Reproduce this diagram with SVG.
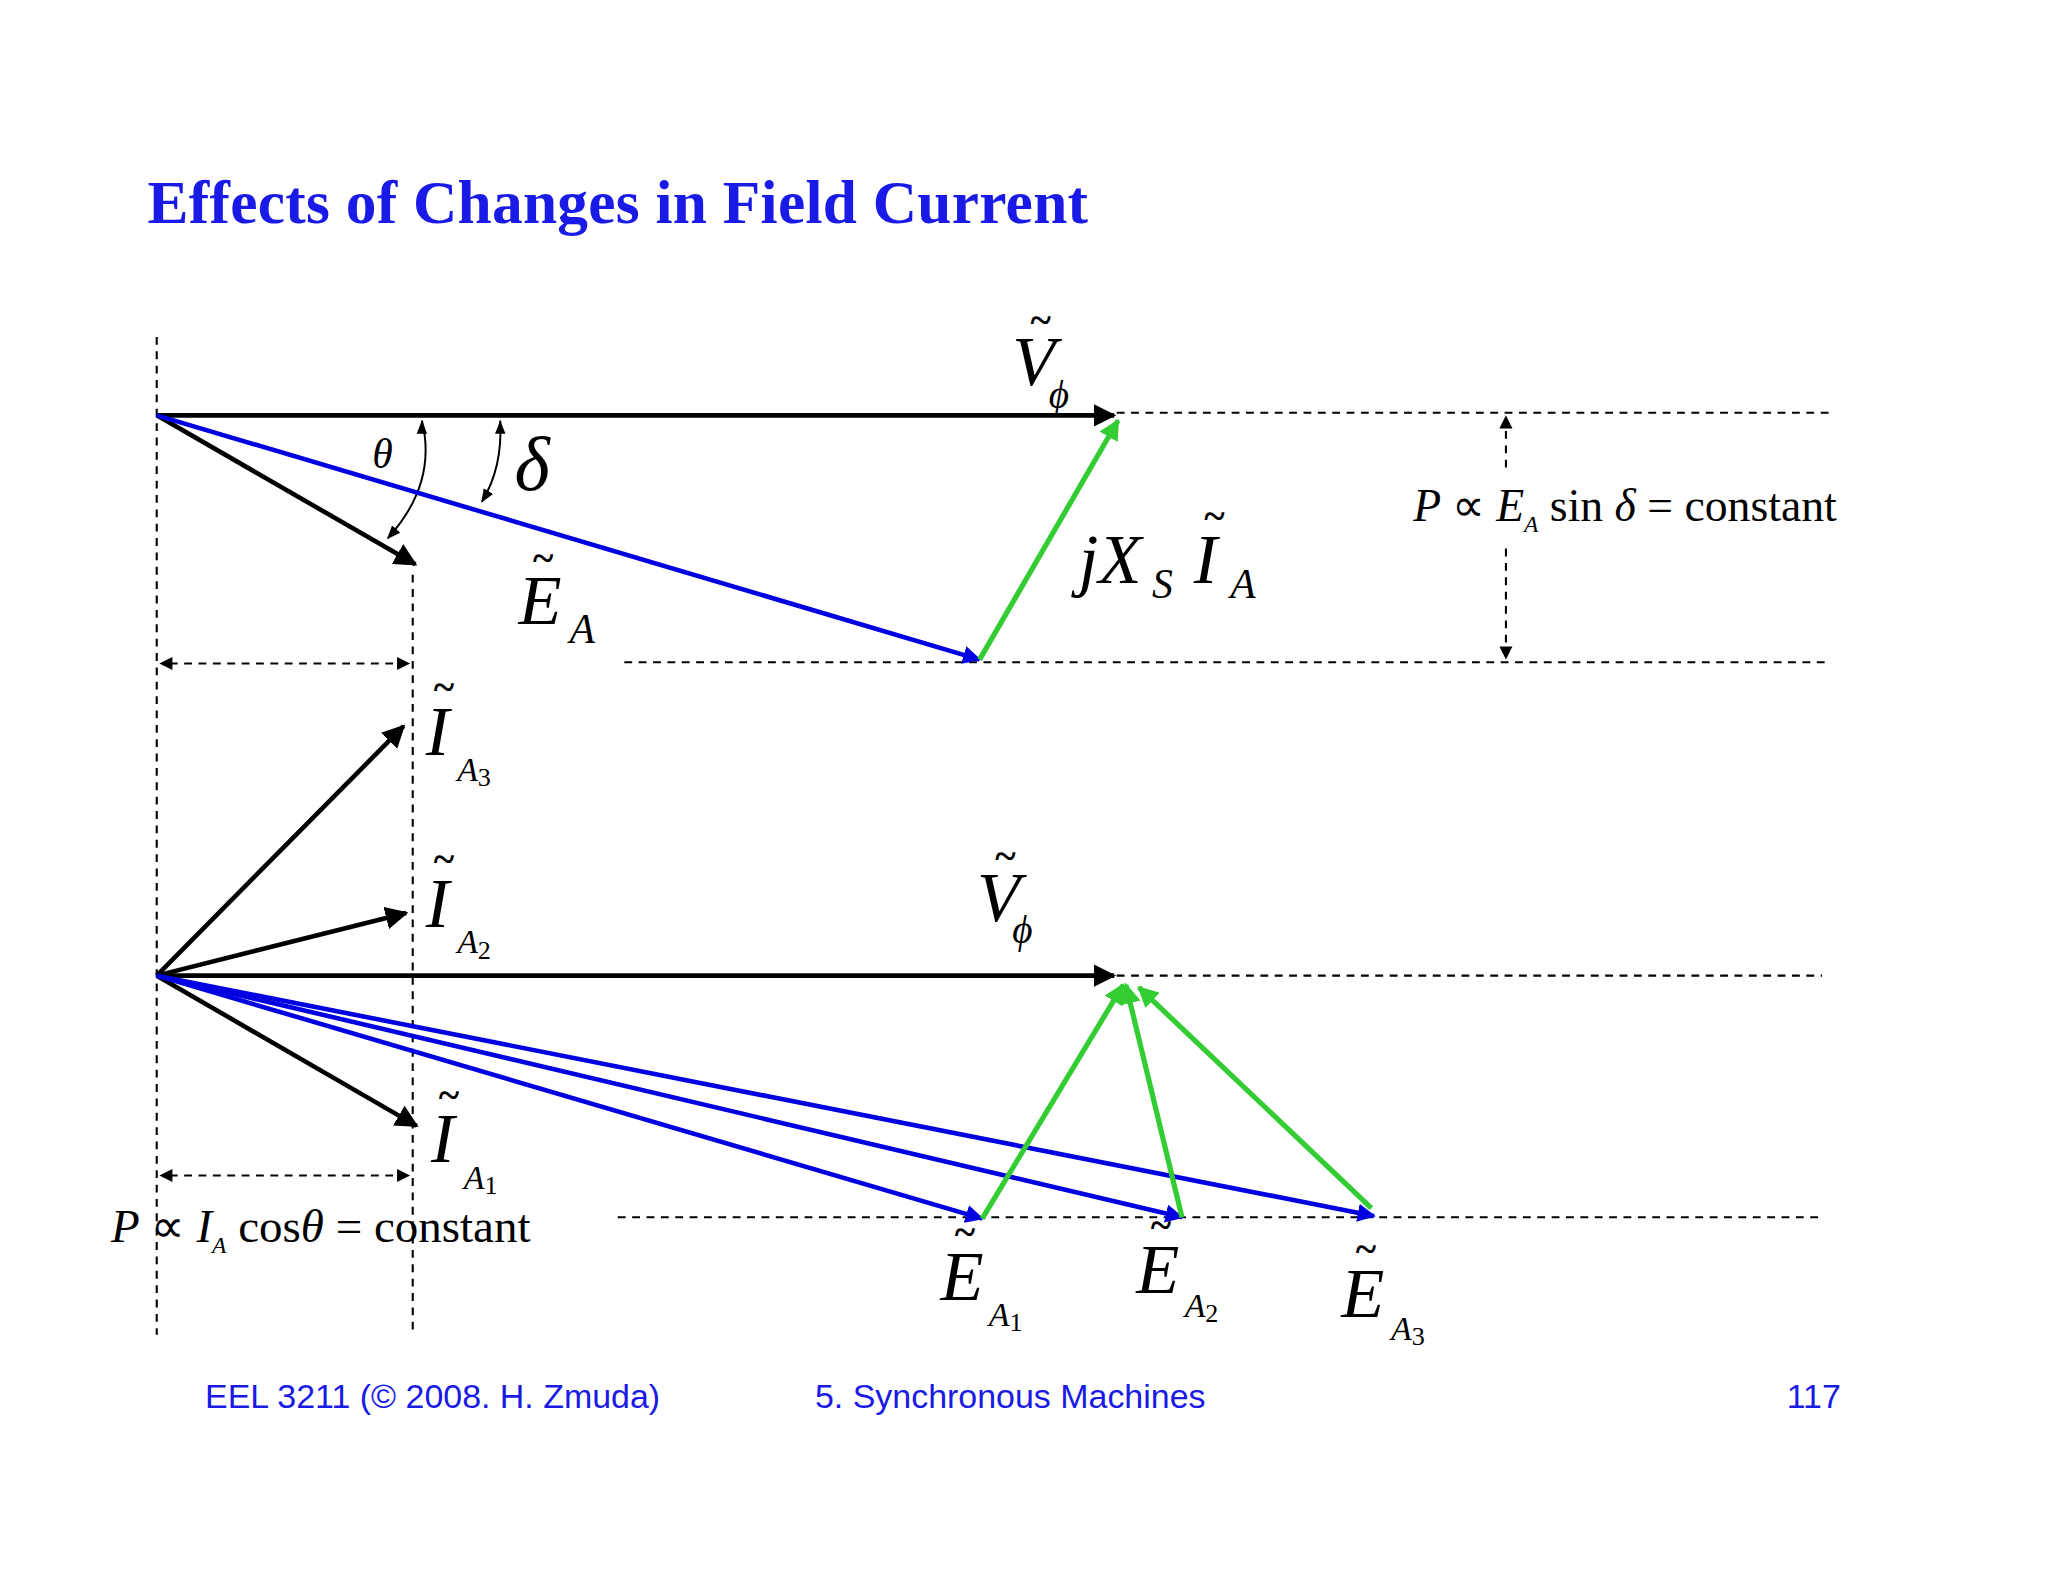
<svg xmlns="http://www.w3.org/2000/svg" width="2048" height="1582" viewBox="0 0 2048 1582">
<style>
.d{stroke:#000;stroke-width:1.6;stroke-dasharray:6 5;fill:none}
.v{stroke:#000;stroke-width:3.5;fill:none}
.b{stroke:#0000e0;stroke-width:3.5;fill:none}
.g{stroke:#33cc33;stroke-width:4;fill:none}
.h{fill:#000}
.t{font-family:"Liberation Serif",serif;font-style:italic;fill:#000}
.n{font-family:"Liberation Serif",serif;fill:#000}
.w{font-family:"Liberation Serif",serif;fill:#000;font-size:30px;font-weight:bold}
.f{font-family:"Liberation Sans",sans-serif;fill:#1a1ae6;font-size:26px}
</style>
<defs>
<marker id="ak" viewBox="0 0 10 10" refX="9" refY="5" markerWidth="5" markerHeight="5" orient="auto" markerUnits="strokeWidth"><path d="M0,0L10,5L0,10z" fill="#000"/></marker>
<marker id="ab" viewBox="0 0 10 10" refX="9" refY="5" markerWidth="4" markerHeight="4" orient="auto" markerUnits="strokeWidth"><path d="M0,0L10,5L0,10z" fill="#0000e0"/></marker>
<marker id="ag" viewBox="0 0 10 10" refX="9" refY="5" markerWidth="4" markerHeight="4" orient="auto" markerUnits="strokeWidth"><path d="M0,0L10,5L0,10z" fill="#33cc33"/></marker>
<marker id="as" viewBox="0 0 10 10" refX="9" refY="5" markerWidth="7" markerHeight="7" orient="auto" markerUnits="strokeWidth"><path d="M0,1L10,5L0,9z" fill="#000"/></marker>
</defs>
<rect width="2048" height="1582" fill="#fff"/>
<g transform="scale(1.3061)">
<text x="113" y="171" font-family="Liberation Serif,serif" font-weight="bold" font-size="47" fill="#1a1ae6" textLength="720">Effects of Changes in Field Current</text>
<g id="connectors">
<path class="d" d="M120,258V1022M316,440V1022M855,316H1400M478,507H1400M855,747H1395M473,932H1395"/>
<path class="d" d="M130,508H304M130,900H304"/>
<path class="h" d="M122,508l10,-5v10zM314,508l-10,-5v10zM122,900l10,-5v10zM314,900l-10,-5v10z"/>
<path class="d" d="M1153,358V326M1153,420V497"/>
<path class="h" d="M1153,318l-5,10h10zM1153,505l-5,-10h10z"/>
<path d="M323,322Q335,370 297,412" stroke="#000" stroke-width="1.5" fill="none" marker-end="url(#as)"/>
<path d="M323,322l-4,10h8z" class="h"/>
<path d="M383,322Q385,358 369,384" stroke="#000" stroke-width="1.5" fill="none" marker-end="url(#as)"/>
<path d="M383,322l-4,10h8z" class="h"/>
<path class="v" d="M120,318H853" marker-end="url(#ak)"/>
<path class="v" d="M120,318L318,432" marker-end="url(#ak)"/>
<path class="b" d="M120,318L750,505" marker-end="url(#ab)"/>
<path class="g" d="M750,505L856,322" marker-end="url(#ag)"/>
<path class="v" d="M120,747H853" marker-end="url(#ak)"/>
<path class="v" d="M120,747L309,556" marker-end="url(#ak)"/>
<path class="v" d="M120,747L311,699" marker-end="url(#ak)"/>
<path class="v" d="M120,747L319,862" marker-end="url(#ak)"/>
<path class="b" d="M120,747L752,933" marker-end="url(#ab)"/>
<path class="b" d="M120,747L905,932" marker-end="url(#ab)"/>
<path class="b" d="M120,747L1052,931" marker-end="url(#ab)"/>
<path class="g" d="M752,933L860,754" marker-end="url(#ag)"/>
<path class="g" d="M905,932L862,754" marker-end="url(#ag)"/>
<path class="g" d="M1050,925L872,756" marker-end="url(#ag)"/>
</g>
<g id="labels">
<text class="t" x="775" y="295" font-size="54">V</text><text class="w" x="789" y="255">~</text><text class="t" x="803" y="312" font-size="30">ϕ</text>
<text class="t" x="285" y="358" font-size="32">θ</text>
<text class="t" x="394" y="375" font-size="58">δ</text>
<text class="t" x="397" y="478" font-size="54">E</text><text class="w" x="408" y="437">~</text><text class="t" x="436" y="492" font-size="32">A</text>
<text class="t" x="826" y="446" font-size="54">jX</text><text class="t" x="882" y="458" font-size="32">S</text>
<text class="t" x="914" y="446" font-size="54">I</text><text class="w" x="922" y="405">~</text><text class="t" x="942" y="458" font-size="32">A</text>
<text class="t" x="1082" y="399" font-size="35">P <tspan class="n" font-style="normal">∝</tspan> E<tspan font-size="18" dy="8">A</tspan><tspan class="n" font-style="normal" dy="-8"> sin</tspan> δ<tspan font-style="normal"> = constant</tspan></text>
<text class="t" x="326" y="578" font-size="54">I</text><text class="w" x="332" y="536">~</text><text class="t" x="350" y="598" font-size="26">A<tspan font-size="20" font-style="normal" dy="4">3</tspan></text>
<text class="t" x="326" y="710" font-size="54">I</text><text class="w" x="332" y="668">~</text><text class="t" x="350" y="730" font-size="26">A<tspan font-size="20" font-style="normal" dy="4">2</tspan></text>
<text class="t" x="330" y="890" font-size="54">I</text><text class="w" x="336" y="848">~</text><text class="t" x="355" y="910" font-size="26">A<tspan font-size="20" font-style="normal" dy="4">1</tspan></text>
<text class="t" x="748" y="705" font-size="54">V</text><text class="w" x="762" y="665">~</text><text class="t" x="775" y="722" font-size="30">ϕ</text>
<text class="t" x="85" y="951" font-size="36">P <tspan class="n" font-style="normal">∝</tspan> I<tspan font-size="18" dy="8">A</tspan><tspan class="n" font-style="normal" dy="-8"> cos</tspan>θ<tspan font-style="normal"> = constant</tspan></text>
<text class="t" x="720" y="995" font-size="54">E</text><text class="w" x="731" y="953">~</text><text class="t" x="757" y="1015" font-size="26">A<tspan font-size="20" font-style="normal" dy="4">1</tspan></text>
<text class="t" x="870" y="990" font-size="54">E</text><text class="w" x="881" y="948">~</text><text class="t" x="907" y="1008" font-size="26">A<tspan font-size="20" font-style="normal" dy="4">2</tspan></text>
<text class="t" x="1027" y="1008" font-size="54">E</text><text class="w" x="1038" y="966">~</text><text class="t" x="1065" y="1026" font-size="26">A<tspan font-size="20" font-style="normal" dy="4">3</tspan></text>
</g>
<text class="f" x="157" y="1078">EEL 3211 (© 2008. H. Zmuda)</text>
<text class="f" x="624" y="1078">5. Synchronous Machines</text>
<text class="f" x="1368" y="1078">117</text>
</g>
</svg>
